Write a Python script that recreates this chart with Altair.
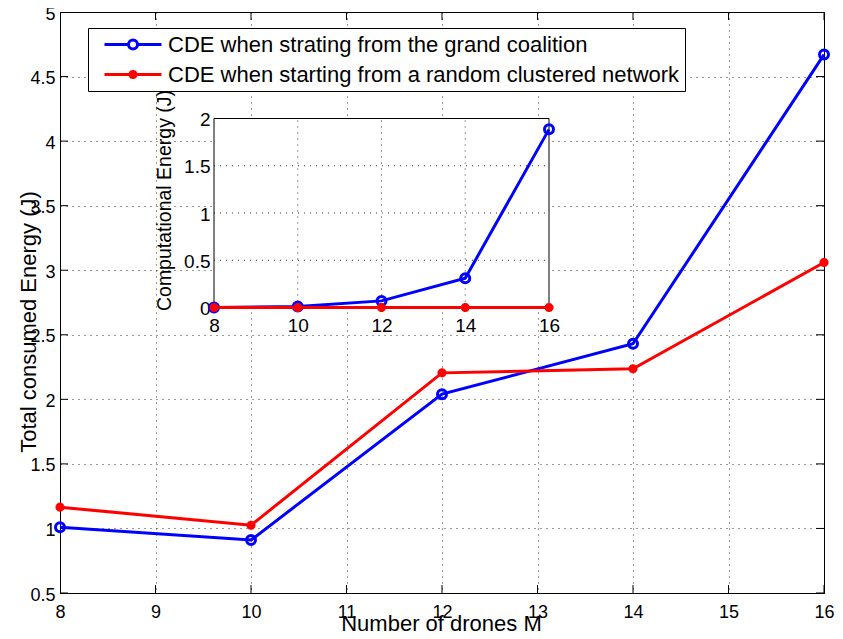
import altair as alt
import pandas as pd

# ---------------- data ----------------
M = [8, 10, 12, 14, 16]
total_grand = [1.01, 0.91, 2.04, 2.43, 4.67]
total_random = [1.165, 1.025, 2.205, 2.237, 3.06]
comp_grand = [0.0, 0.01, 0.07, 0.31, 1.885]
comp_random = [0.0, 0.0, 0.0, 0.0, 0.0]

SERIES = ["CDE when strating from the grand coalition",
          "CDE when starting from a random clustered network"]

main_x_ticks = [8, 9, 10, 11, 12, 13, 14, 15, 16]
main_y_ticks = [0.5, 1, 1.5, 2, 2.5, 3, 3.5, 4, 4.5, 5]
inset_x_ticks = [8, 10, 12, 14, 16]
inset_y_ticks = [0, 0.5, 1, 1.5, 2]

BLUE = "#0000ff"
RED = "#ff0000"
FONT = "Liberation Sans"
ASTERISK = "M0,-1L0,1M-1,0L1,0M-0.7,-0.7L0.7,0.7M-0.7,0.7L0.7,-0.7"
LEG_BLUE = ("M0,0L2.4,0M3.3,0L5.7,0M3.3,0A0.45,0.45,0,1,1,2.4,0"
            "A0.45,0.45,0,1,1,3.3,0")
LEG_RED = ("M0,0L5.7,0M2.85,-0.45L2.85,0.45M2.4,0L3.3,0"
           "M2.53,-0.32L3.17,0.32M2.53,0.32L3.17,-0.32")

# ---------------- scales / axes ----------------
XS_MAIN = alt.Scale(domain=[8, 16], nice=False, zero=False)
YS_MAIN = alt.Scale(domain=[0.5, 5], nice=False, zero=False)
XS_IN = alt.Scale(domain=[8, 16], range=[154, 489], nice=False, zero=False)
YS_IN = alt.Scale(domain=[0, 2], range=[295.5, 106.5], nice=False, zero=False)

GRID = dict(grid=True, gridDash=[1, 5], gridColor="black", gridOpacity=0.8, gridWidth=1)

AX_MAIN_X = alt.Axis(values=main_x_ticks, title="Number of drones M", labelFontSize=18,
                     labelPadding=10, ticks=False, labelFlush=False, labelOverlap=False,
                     titleFontSize=22, titleY=37, titleX=381, titleBaseline="alphabetic",
                     **GRID)
AX_MAIN_Y = alt.Axis(values=main_y_ticks, format="~g", title="Total consumed Energy (J)",
                     labelFontSize=18, labelPadding=5, labelOffset=2, ticks=False,
                     labelOverlap=False, titleFontSize=22, titleAngle=270, titleX=-25,
                     titleY=309.5, titleBaseline="alphabetic", titleAlign="center", **GRID)
AX_IN_X = alt.Axis(values=inset_x_ticks, orient="bottom", offset=-285.5, labelFontSize=19,
                   labelPadding=9, ticks=False, grid=False, labelFlush=False,
                   labelOverlap=False, title=None)
AX_IN_Y = alt.Axis(values=inset_y_ticks, orient="left", offset=-154, format="~g",
                   labelFontSize=19, labelPadding=4, labelOffset=1, ticks=False, grid=False,
                   labelOverlap=False, title="Computational Energy (J)", titleFontSize=19.5,
                   titleAngle=270, titleX=-44, titleY=188, titleBaseline="alphabetic",
                   titleAlign="center")


def mx(f):
    return alt.X(f, type="quantitative", scale=XS_MAIN, axis=AX_MAIN_X)


def my(f):
    return alt.Y(f, type="quantitative", scale=YS_MAIN, axis=AX_MAIN_Y)


def ix(f):
    return alt.X(f, type="quantitative", scale=XS_IN, axis=AX_IN_X)


def iy(f):
    return alt.Y(f, type="quantitative", scale=YS_IN, axis=AX_IN_Y)


# ---------------- main plot ----------------
df_tg = pd.DataFrame({"M": M, "E": total_grand})
df_tr = pd.DataFrame({"M": M, "E": total_random})
df_leg = pd.DataFrame({"M": M + M, "E": total_grand + total_random,
                       "series": [SERIES[0]] * len(M) + [SERIES[1]] * len(M)})
df_tick_x = pd.DataFrame({"M": main_x_ticks + main_x_ticks,
                          "E": [main_y_ticks[0]] * len(main_x_ticks) + [main_y_ticks[-1]] * len(main_x_ticks)})
df_tick_y = pd.DataFrame({"E": main_y_ticks + main_y_ticks,
                          "M": [main_x_ticks[0]] * len(main_y_ticks) + [main_x_ticks[-1]] * len(main_y_ticks)})

ticks_x = alt.Chart(df_tick_x).mark_tick(orient="vertical", size=16, thickness=1,
                                         color="black", clip=True, opacity=1).encode(x=mx("M"), y=my("E"))
ticks_y = alt.Chart(df_tick_y).mark_tick(orient="horizontal", size=16, thickness=1,
                                         color="black", clip=True, opacity=1).encode(x=mx("M"), y=my("E"))

line_b = alt.Chart(df_tg).mark_line(color=BLUE, strokeWidth=3).encode(x=mx("M"), y=my("E"))
pts_b = alt.Chart(df_tg).mark_point(shape="circle", filled=False, size=81, strokeWidth=3,
                                    color=BLUE, opacity=1).encode(x=mx("M"), y=my("E"))
line_r = alt.Chart(df_tr).mark_line(color=RED, strokeWidth=3).encode(x=mx("M"), y=my("E"))
pts_r = alt.Chart(df_tr).mark_point(shape=ASTERISK, filled=False, size=81, strokeWidth=3,
                                    color=RED, opacity=1).encode(x=mx("M"), y=my("E"))

LEG = alt.Legend(orient="none", legendX=28, legendY=16, title=None, labelFontSize=22,
                 labelFont=FONT, labelColor="black", labelLimit=0, labelOffset=52,
                 symbolSize=400, symbolStrokeWidth=3, symbolOpacity=1,
                 strokeColor="black", fillColor="white", padding=5, rowPadding=7)
legend_layer = alt.Chart(df_leg).mark_point(filled=False, opacity=0, strokeWidth=3).encode(
    x=mx("M"), y=my("E"),
    color=alt.Color("series:N", scale=alt.Scale(domain=SERIES, range=[BLUE, RED]), legend=LEG),
    shape=alt.Shape("series:N", scale=alt.Scale(domain=SERIES, range=[LEG_BLUE, LEG_RED]), legend=LEG),
)

main = alt.layer(ticks_x, ticks_y, line_b, pts_b, line_r, pts_r, legend_layer)

# ---------------- inset ----------------
df_box = pd.DataFrame({"a": [inset_x_ticks[0]], "b": [inset_x_ticks[-1]],
                       "c": [inset_y_ticks[0]], "d": [inset_y_ticks[-1]]})
df_vg = pd.DataFrame({"M": inset_x_ticks[1:-1], "lo": inset_y_ticks[0], "hi": inset_y_ticks[-1]})
df_hg = pd.DataFrame({"E": inset_y_ticks[1:-1], "lo": inset_x_ticks[0], "hi": inset_x_ticks[-1]})
df_cg = pd.DataFrame({"M": M, "E": comp_grand})
df_cr = pd.DataFrame({"M": M, "E": comp_random})

box = alt.Chart(df_box).mark_rect(fill="white", stroke="black", strokeWidth=1).encode(
    x=ix("a"), x2="b", y=iy("c"), y2="d")
vgrid = alt.Chart(df_vg).mark_rule(strokeDash=[1, 5], color="black", opacity=0.8).encode(
    x=ix("M"), y=iy("lo"), y2="hi")
hgrid = alt.Chart(df_hg).mark_rule(strokeDash=[1, 5], color="black", opacity=0.8).encode(
    y=iy("E"), x=ix("lo"), x2="hi")
iline_b = alt.Chart(df_cg).mark_line(color=BLUE, strokeWidth=3).encode(x=ix("M"), y=iy("E"))
ipts_b = alt.Chart(df_cg).mark_point(shape="circle", filled=False, size=81, strokeWidth=3,
                                     color=BLUE, opacity=1).encode(x=ix("M"), y=iy("E"))
iline_r = alt.Chart(df_cr).mark_line(color=RED, strokeWidth=3).encode(x=ix("M"), y=iy("E"))
ipts_r = alt.Chart(df_cr).mark_point(shape=ASTERISK, filled=False, size=81, strokeWidth=3,
                                     color=RED, opacity=1).encode(x=ix("M"), y=iy("E"))

inset = alt.layer(box, vgrid, hgrid, iline_b, ipts_b, iline_r, ipts_r)

chart = alt.layer(main, inset).resolve_scale(x="independent", y="independent").properties(
    width=764, height=581,
    autosize=alt.AutoSizeParams(type="none"),
    padding={"left": 52, "top": 4, "right": 11, "bottom": 38},
    background="white",
).configure_axis(
    labelFont=FONT, titleFont=FONT, labelColor="black", titleColor="black",
    titleFontWeight="normal", domainColor="black", domainWidth=1,
).configure_legend(
    labelFont=FONT,
).configure_view(stroke="black", strokeWidth=1)

chart.save("out.html", embed_options={"renderer": "svg", "actions": False})
